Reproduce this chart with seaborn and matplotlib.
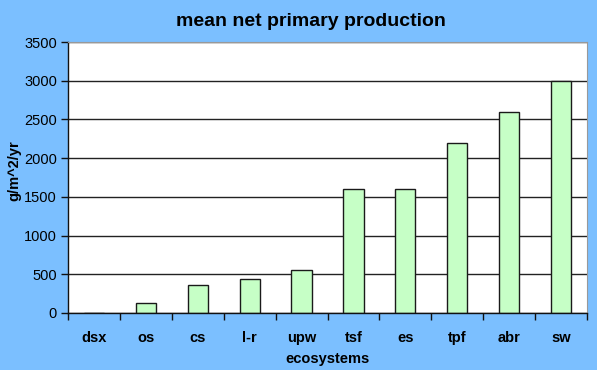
import matplotlib
matplotlib.use("Agg")
import matplotlib.pyplot as plt
import seaborn as sns
import pandas as pd
from matplotlib.patches import Rectangle

ecosystems = ["dsx", "os", "cs", "l-r", "upw", "tsf", "es", "tpf", "abr", "sw"]
npp = [3, 125, 360, 440, 550, 1600, 1600, 2200, 2600, 3000]
y_ticks = [0, 500, 1000, 1500, 2000, 2500, 3000, 3500]

df = pd.DataFrame({"ecosystem": ecosystems, "npp": npp})

sns.set_theme(style="white")
plt.rcParams["font.family"] = ["Liberation Sans", "DejaVu Sans"]
plt.rcParams["text.color"] = "black"
plt.rcParams["axes.labelcolor"] = "black"
plt.rcParams["xtick.color"] = "black"
plt.rcParams["ytick.color"] = "black"

blue = "#7bbfff"
fig = plt.figure(figsize=(6, 3.73), dpi=100, facecolor="white")
# blue chart area with thin white margin right/bottom
bg = Rectangle((0, 3 / 373), 597 / 600, 370 / 373, transform=fig.transFigure,
               facecolor=blue, edgecolor="none", zorder=-10)
fig.patches.append(bg)
ax = fig.add_axes([68 / 600, 1 - 313 / 373, 519 / 600, 271 / 373])
ax.set_zorder(1)
ax.set_facecolor("white")

sns.barplot(data=df, x="ecosystem", y="npp", ax=ax, color="#c6ffc6",
            edgecolor="#1a1a1a", linewidth=1.0, width=0.39, saturation=1, zorder=3)

ax.set_ylim(0, 3500)
ax.set_xlim(-0.5, len(ecosystems) - 0.5)
ax.set_yticks(y_ticks)
ax.set_yticklabels([str(t) for t in y_ticks], fontsize=10.5)
ax.yaxis.grid(True, color="#222222", linewidth=1.0, zorder=0)
ax.set_axisbelow(True)

for side in ["top", "right"]:
    ax.spines[side].set_color("#999999")
    ax.spines[side].set_linewidth(0.8)
for side in ["left", "bottom"]:
    ax.spines[side].set_color("#111111")
    ax.spines[side].set_linewidth(1.0)
ax.spines["bottom"].set_zorder(5)

ax.tick_params(axis="y", which="major", left=True, length=5, width=1, color="#111111", pad=3)
ax.tick_params(axis="x", which="major", bottom=False, pad=7)
ax.set_xticks([i - 0.5 for i in range(len(ecosystems) + 1)], minor=True)
ax.tick_params(axis="x", which="minor", bottom=True, length=5, width=1, color="#111111")
for lbl in ax.get_xticklabels():
    lbl.set_fontweight("bold")
    lbl.set_fontsize(10.5)

ax.set_xlabel("ecosystems", fontsize=10.5, fontweight="bold", labelpad=5)
ax.set_ylabel("g/m^2/yr", fontsize=10.5, fontweight="bold")
ax.yaxis.set_label_coords(21 / 600, 1 - 171 / 373, transform=fig.transFigure)
fig.text(311 / 600, 1 - 22 / 373, "mean net primary production", ha="center", va="center",
         fontsize=14, fontweight="bold")

fig.savefig("out.png", dpi=100, facecolor="white")
